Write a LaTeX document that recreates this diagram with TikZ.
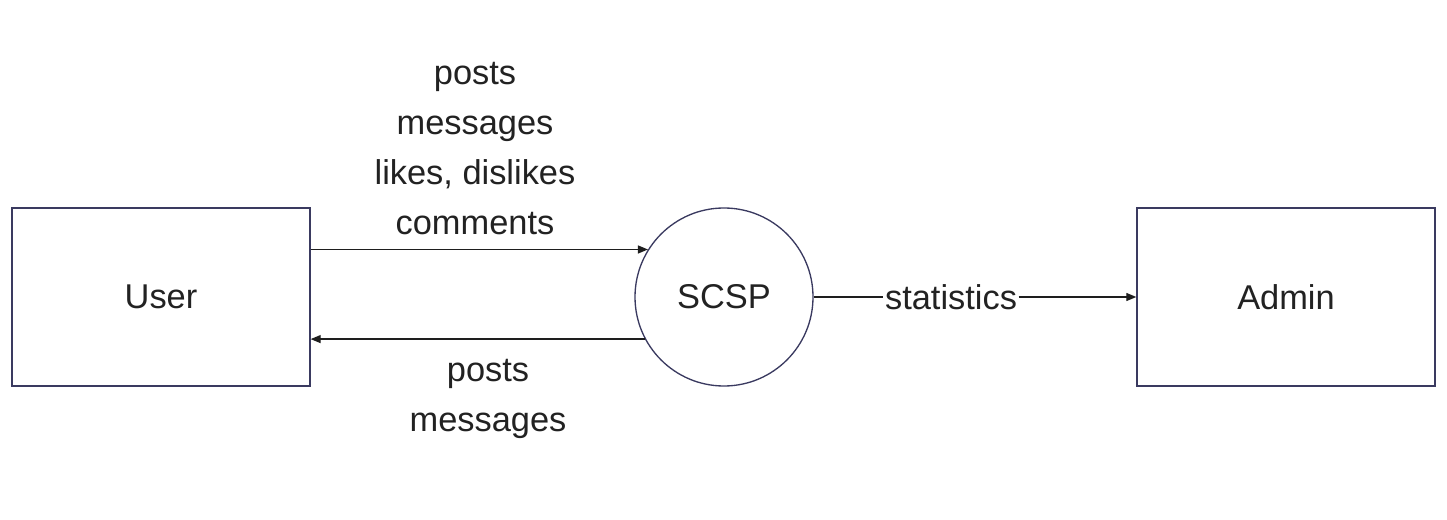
\documentclass[tikz,border=0pt]{standalone}
\usepackage{fontspec}
\setmainfont{Liberation Sans}
\usetikzlibrary{arrows.meta}
\definecolor{boxline}{RGB}{58,58,96}
\definecolor{txt}{RGB}{34,34,34}
\definecolor{arr}{RGB}{30,30,30}
\tikzset{
  entity/.style={draw=boxline, line width=1pt, minimum width=223.5pt, minimum height=133.5pt, inner sep=0pt, text=txt, font=\fontsize{25.8}{37.5}\selectfont},
  proc/.style={draw=boxline, line width=1pt, circle, minimum size=133.5pt, inner sep=0pt, text=txt, font=\fontsize{25.8}{37.5}\selectfont},
  lbl/.style={text=txt, inner sep=0pt, align=center, font=\fontsize{25.8}{37.5}\selectfont},
  plain/.style={draw=arr, line width=0.9pt},
  flow/.style={plain, -{Triangle[length=7.5pt,width=6pt]}}
}
\begin{document}
\begin{tikzpicture}[x=0.75pt,y=-0.75pt]
\useasboundingbox (0,0) rectangle (1447,520);
\node[entity] (User) at (161,297) {User};
\node[entity] (Admin) at (1286,297) {Admin};
\node[proc] (SCSP) at (724,297) {SCSP};
\draw[flow] (SCSP.148.1 -| User.east) -- (SCSP.148.1);
\draw[flow] (SCSP.208.9) -- (SCSP.208.9 -| User.east);
\node[lbl] (toplbl) at (475,148.5) {posts\\messages\\likes, dislikes\\comments};
\node[lbl] (botlbl) at (488,399) {posts\\messages};
\node[lbl, inner xsep=1pt] (stat) at (951,297) {statistics};
\draw[plain] (SCSP.east) -- (stat.west);
\draw[flow] (stat.east) -- (Admin.west);
\end{tikzpicture}
\end{document}
